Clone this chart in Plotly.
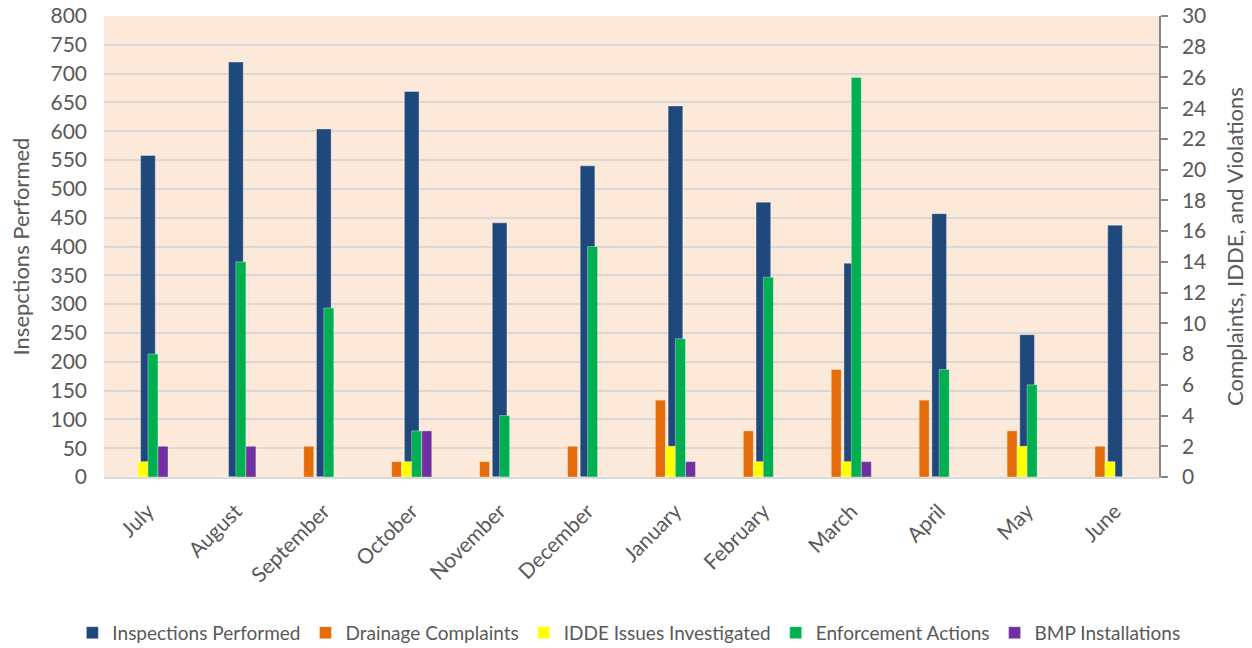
import plotly.graph_objects as go

months = ["July", "August", "September", "October", "November", "December",
          "January", "February", "March", "April", "May", "June"]
inspections = [558, 720, 604, 669, 441, 540, 644, 477, 371, 457, 247, 437]
drainage = [0, 0, 2, 1, 1, 2, 5, 3, 7, 5, 3, 2]
idde = [1, 0, 0, 1, 0, 0, 2, 1, 1, 0, 2, 1]
enforcement = [8, 14, 11, 3, 4, 15, 9, 13, 26, 7, 6, 0]
bmp = [2, 2, 0, 3, 0, 0, 1, 0, 1, 0, 0, 0]

FONT = "Lato"
TXT = "#595959"
edge = dict(color="rgba(255,255,255,0.45)", width=0.8)

fig = go.Figure()
fig.add_trace(go.Bar(x=months, y=inspections, name="Inspections Performed",
                     marker=dict(color="#1F497D", line=edge),
                     width=0.167, offset=-0.0835, yaxis="y"))
sec = [("Drainage Complaints", drainage, "#E46C0A", -0.228),
       ("IDDE Issues Investigated", idde, "#FFFF00", -0.114),
       ("Enforcement Actions", enforcement, "#00B050", 0.0),
       ("BMP Installations", bmp, "#7030A0", 0.114)]
for name, vals, col, off in sec:
    fig.add_trace(go.Bar(x=months, y=vals, name=name,
                         marker=dict(color=col, line=edge),
                         width=0.114, offset=off, yaxis="y2"))

fig.update_layout(
    width=1252, height=648,
    margin=dict(l=104, r=93, t=16, b=171, autoexpand=False),
    paper_bgcolor="white", plot_bgcolor="#FDE9D9",
    barmode="overlay",
    font=dict(family=FONT, size=20, color=TXT),
    showlegend=True,
    legend=dict(orientation="h", xref="paper", yref="paper",
                x=-0.03, xanchor="left", y=-0.338, yanchor="middle",
                font=dict(size=19, color=TXT), itemwidth=30, traceorder="normal",
                tracegroupgap=0),
    xaxis=dict(type="category", tickangle=-45, showline=True, linecolor="#D9D9D9",
               linewidth=1.5, ticks="", tickfont=dict(size=21, color=TXT),
               ticklabelstandoff=12, range=[-0.5, 11.5], showgrid=False, automargin=False),
    yaxis=dict(range=[0, 800], dtick=50, showgrid=True, gridcolor="#D9D9D9", gridwidth=1.5,
               showline=False, zeroline=False, ticks="", ticklabelstandoff=16,
               tickfont=dict(size=21, color=TXT), automargin=False,
               title=dict(text="Insepctions Performed", font=dict(size=22, color=TXT), standoff=14)),
    yaxis2=dict(range=[0, 30], dtick=2, overlaying="y", side="right", showgrid=False,
                zeroline=False, showline=True, linecolor="#868686", linewidth=1.5,
                ticks="outside", ticklen=7, tickcolor="#868686", tickwidth=1.5,
                ticklabelstandoff=10, tickfont=dict(size=21, color=TXT), automargin=False,
                title=dict(text="Complaints, IDDE, and Violations", font=dict(size=22, color=TXT), standoff=22)),
)

fig.write_html("out.html")
